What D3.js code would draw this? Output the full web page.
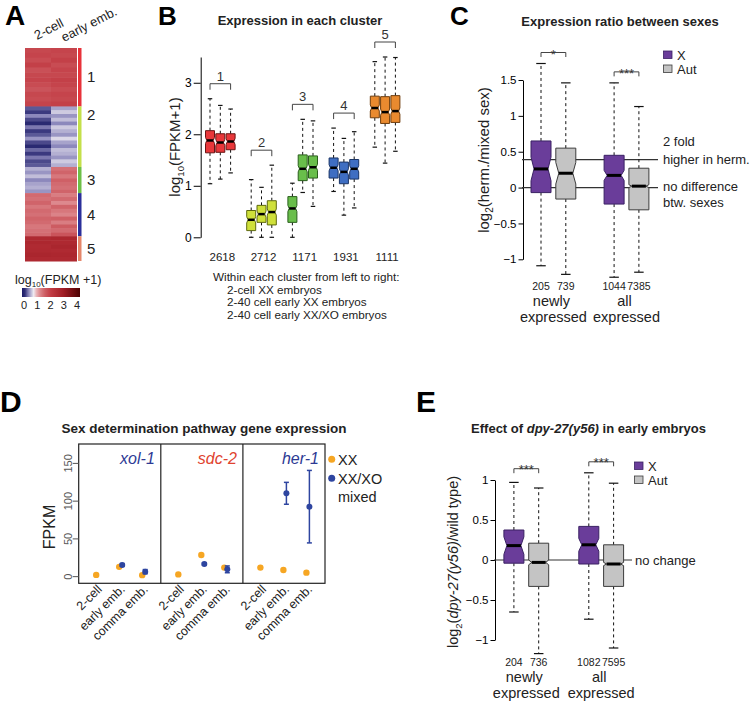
<!DOCTYPE html>
<html><head><meta charset="utf-8">
<script src="https://cdn.jsdelivr.net/npm/d3@7"></script>
<style>body{margin:0;background:#fff}svg text{font-family:"Liberation Sans",Arial,Helvetica,sans-serif}</style>
</head><body><svg id="fig" width="750" height="701"></svg>
<script>
// ---------------- DATA ----------------
// Panel A: heatmap (estimated row values, log10(FPKM+1))
const heatColumns = ["2-cell", "early emb."];
const clusterIds = ["1", "2", "3", "4", "5"];
const clusterSizes = [2618, 2712, 1171, 1931, 1111];
const heat2cell = [
  [1.85, 1.9, 1.8, 1.95, 1.75, 1.85, 1.9, 1.8, 1.7, 1.85, 1.8, 1.9],
  [0.2, 0.1, 0.35, 0.15, 0.05, 0.3, 0.1, 0.2, 0.4, 0.15, 0.05, 0.25, 0.1, 0.3, 0.15, 0.2],
  [0.5, 0.4, 0.55, 0.35, 0.45, 0.5, 0.4],
  [1.45, 1.4, 1.5, 1.35, 1.45, 1.4, 1.5, 1.45, 1.35, 1.4, 1.45],
  [2.6, 2.65, 2.55, 2.6, 2.7, 2.6]
];
const heatEarly = [
  [1.9, 1.85, 1.95, 1.8, 1.9, 1.85, 1.95, 1.9, 1.8, 1.9, 1.85, 1.95],
  [0.45, 0.6, 0.4, 0.55, 0.35, 0.6, 0.5, 0.4, 0.65, 0.45, 0.35, 0.55, 0.5, 0.4, 0.6, 0.5],
  [1.4, 1.5, 1.35, 1.55, 1.45, 1.4, 1.5],
  [1.3, 1.45, 1.2, 1.5, 1.35, 1.25, 1.55, 1.3, 1.6, 1.45, 1.7],
  [2.65, 2.6, 2.7, 2.55, 2.65, 2.6]
];
const heatLegendTicks = [0, 1, 2, 3, 4];

// Panel B: boxplots per cluster (3 samples each)
const bSamples = ["2-cell XX embryos", "2-40 cell early XX embryos", "2-40 cell early XX/XO embryos"];
const bLow  = [[1.04, 1.13, 1.25], [0, 0, 0], [0, 0.87, 0.60], [0.89, 0.43, 0.57], [1.75, 1.44, 1.67]];
const bQ1   = [[1.64, 1.65, 1.70], [0.13, 0.29, 0.24], [0.29, 1.10, 1.15], [1.15, 1.04, 1.13], [2.32, 2.21, 2.23]];
const bMed  = [[1.88, 1.84, 1.86], [0.34, 0.45, 0.49], [0.56, 1.33, 1.36], [1.35, 1.27, 1.33], [2.51, 2.43, 2.45]];
const bQ3   = [[2.07, 2.01, 2.01], [0.52, 0.62, 0.71], [0.79, 1.60, 1.58], [1.54, 1.46, 1.51], [2.74, 2.73, 2.75]];
const bHigh = [[2.69, 2.56, 2.49], [1.12, 0.97, 1.40], [1.05, 2.29, 2.26], [2.12, 1.92, 2.05], [3.41, 3.50, 3.49]];
const bNotch = 0.06;
const bTicks = [0, 1, 2, 3];

// Panel C: log2(herm./mixed sex)
const cCategories = ["newly expressed", "all expressed"];
const chromosomes = ["X", "Aut"];
const cLow  = [[-1.09, -1.21], [-1.25, -1.18]];
const cQ1   = [[-0.07, -0.16], [-0.23, -0.31]];
const cMed  = [[0.26, 0.20], [0.17, 0.02]];
const cQ3   = [[0.65, 0.55], [0.45, 0.27]];
const cHigh = [[1.73, 1.46], [1.46, 1.13]];
const cNotch = [[0.165, 0.15], [0.07, 0.02]];
const cCounts = [[205, 739], [1044, 7385]];
const cSignif = ["*", "***"];
const cRefLines = [0.39, 0];
const cTicks = [-1, -0.5, 0, 0.5, 1, 1.5];

// Panel D: sex determination genes (FPKM)
const dGenes = ["xol-1", "sdc-2", "her-1"];
const dStages = ["2-cell", "early emb.", "comma emb."];
const dXX = [[2.3, 13, 2], [3, 28.7, 12], [12, 8.9, 5.3]];
const dMixed = [[null, 15.5, 6.6], [null, 16.8, 9.7], [null, 110.4, 92.7]];
const dMixedErr = [[null, 1.8, 2.8], [null, 1.5, 4.5], [null, 14.5, 48]];
const dTicks = [0, 50, 100, 150];

// Panel E: log2(dpy-27(y56)/wild type)
const eLow  = [[-0.65, -1.17], [-0.74, -1.10]];
const eQ1   = [[-0.04, -0.33], [-0.05, -0.33]];
const eMed  = [[0.18, -0.03], [0.19, -0.05]];
const eQ3   = [[0.375, 0.21], [0.42, 0.19]];
const eHigh = [[0.97, 0.90], [1.09, 0.96]];
const eNotch = [[0.11, 0.03], [0.08, 0.02]];
const eCounts = [[204, 736], [1082, 7595]];
const eSignif = ["***", "***"];
const eTicks = [-1, -0.5, 0, 0.5, 1];

// ---------------- DRAWING ----------------
const svg = d3.select("#fig");
svg.append("rect").attr("width", 750).attr("height", 701).attr("fill", "#fff");

function txt(g, s, x, y, size, opts = {}) {
  const t = g.append("text").attr("x", x).attr("y", y).attr("font-size", size)
    .attr("fill", opts.fill || "#000").attr("text-anchor", opts.anchor || "start")
    .attr("font-weight", opts.bold ? "bold" : "normal").text(s);
  if (opts.italic) t.attr("font-style", "italic");
  return t;
}
function letter(s, x, y, size) { txt(svg, s, x, y, size, {bold: true}); }

function styleAxis(g, fs) {
  g.selectAll("path.domain").attr("stroke", "#000").attr("stroke-width", 1);
  g.selectAll(".tick line").attr("stroke", "#000");
  g.selectAll(".tick text").attr("font-size", fs).attr("fill", "#000")
    .attr("font-family", "'Liberation Sans',Arial,sans-serif");
}

function notchedBox(g, cx, w, y, low, q1, med, q3, high, nh, indent, fill, stroke, capW, medW) {
  const x0 = cx - w / 2, x1 = cx + w / 2;
  g.append("line").attr("x1", cx).attr("x2", cx).attr("y1", y(q3)).attr("y2", y(high))
    .attr("stroke", "#111").attr("stroke-width", 1).attr("stroke-dasharray", "3,3");
  g.append("line").attr("x1", cx).attr("x2", cx).attr("y1", y(q1)).attr("y2", y(low))
    .attr("stroke", "#111").attr("stroke-width", 1).attr("stroke-dasharray", "3,3");
  [high, low].forEach(v => g.append("line").attr("x1", cx - capW / 2).attr("x2", cx + capW / 2)
    .attr("y1", y(v)).attr("y2", y(v)).attr("stroke", "#111").attr("stroke-width", 1.2));
  let d;
  if (nh > 0) {
    const yh = y(Math.min(med + nh, q3)), yl = y(Math.max(med - nh, q1)), ym = y(med);
    d = `M${x0},${y(q3)}L${x1},${y(q3)}L${x1},${yh}L${x1 - indent},${ym}L${x1},${yl}L${x1},${y(q1)}` +
        `L${x0},${y(q1)}L${x0},${yl}L${x0 + indent},${ym}L${x0},${yh}Z`;
  } else {
    d = `M${x0},${y(q3)}L${x1},${y(q3)}L${x1},${y(q1)}L${x0},${y(q1)}Z`;
  }
  g.append("path").attr("d", d).attr("fill", fill).attr("stroke", stroke).attr("stroke-width", 1);
  g.append("line").attr("x1", x0 + indent).attr("x2", x1 - indent).attr("y1", y(med)).attr("y2", y(med))
    .attr("stroke", "#000").attr("stroke-width", medW);
}

function bracket(g, xa, xb, yb, tick, label, fs, labelDy) {
  g.append("path").attr("d", `M${xa},${yb + tick}L${xa},${yb}L${xb},${yb}L${xb},${yb + tick}`)
    .attr("fill", "none").attr("stroke", "#444").attr("stroke-width", 1);
  txt(g, label, (xa + xb) / 2, yb + labelDy, fs, {anchor: "middle", fill: "#333"});
}

// ===== Panel A =====
letter("A", 5, 25, 28);
const gA = svg.append("g");
const heatColor = d3.scaleLinear()
  .domain([0, 0.35, 0.75, 1.0, 1.5, 2.0, 3.0, 4.0])
  .range(["#1a1a66", "#8c88bc", "#f6f2f6", "#e6a2a6", "#d0646a", "#c23c44", "#a01c24", "#5c0608"]);
const xA = d3.scaleBand().domain(heatColumns).range([25, 77]);
const totalGenes = d3.sum(clusterSizes);
const yA = d3.scaleLinear().domain([0, totalGenes]).range([48, 261]);
const clusterBarColors = ["#e8323a", "#c4e04a", "#6dbf47", "#2b2f9a", "#e5866a"];
let cum = 0;
clusterIds.forEach((cid, k) => {
  const size = clusterSizes[k];
  [heat2cell[k], heatEarly[k]].forEach((rows, c) => {
    const n = rows.length;
    rows.forEach((v, i) => {
      const ya = yA(cum + size * i / n), yb = yA(cum + size * (i + 1) / n);
      gA.append("rect").attr("x", xA(heatColumns[c])).attr("width", xA.bandwidth())
        .attr("y", ya).attr("height", yb - ya + 0.5).attr("fill", heatColor(v));
    });
  });
  gA.append("rect").attr("x", 78).attr("width", 3.5).attr("y", yA(cum)).attr("height", yA(cum + size) - yA(cum))
    .attr("fill", clusterBarColors[k]);
  const mid = (yA(cum) + yA(cum + size)) / 2;
  txt(gA, cid, 87, (k === 1 ? yA(cum) + 9 : mid) + 5, 15, {fill: "#222"});
  cum += size;
});
gA.append("text").attr("transform", "translate(37,40) rotate(-27)").attr("font-size", 13).attr("fill", "#222").text(heatColumns[0]);
gA.append("text").attr("transform", "translate(64,42) rotate(-27)").attr("font-size", 13).attr("fill", "#222").text(heatColumns[1]);
const lt = gA.append("text").attr("x", 15).attr("y", 284).attr("font-size", 12.5).attr("fill", "#222");
lt.append("tspan").text("log");
lt.append("tspan").attr("font-size", 8).attr("dy", 3).text("10");
lt.append("tspan").attr("dy", -3).text("(FPKM +1)");
const xLeg = d3.scaleLinear().domain([0, 4]).range([24, 77]);
const defs = svg.append("defs");
const grad = defs.append("linearGradient").attr("id", "hg").attr("x1", "0%").attr("x2", "100%");
d3.range(0, 21).forEach(i => {
  const v = xLeg.invert(22 + (80 - 22) * i / 20);
  grad.append("stop").attr("offset", (i * 5) + "%").attr("stop-color", heatColor(Math.max(0, v)));
});
gA.append("rect").attr("x", 22).attr("y", 288).attr("width", 58).attr("height", 9).attr("fill", "url(#hg)");
heatLegendTicks.forEach(t => txt(gA, t, xLeg(t), 309, 11, {anchor: "middle", fill: "#222"}));

// ===== Panel B =====
letter("B", 158, 25, 26);
const gB = svg.append("g");
txt(gB, "Expression in each cluster", 300, 25, 13, {anchor: "middle", bold: true, fill: "#222"});
const yB = d3.scaleLinear().domain([0, 3.5]).range([237.3, 57]);
const xB = d3.scaleLinear().domain([0, 18]).range([210, 210 + 18 * 10.3]);
const axB = gB.append("g").attr("transform", "translate(200.7,0)")
  .call(d3.axisLeft(yB).tickValues(bTicks).tickFormat(d3.format("d")).tickSize(7).tickSizeOuter(0).tickPadding(2));
styleAxis(axB, 12);
const yl = gB.append("text").attr("transform", "translate(180,147) rotate(-90)").attr("text-anchor", "middle")
  .attr("font-size", 15).attr("fill", "#222");
yl.append("tspan").text("log");
yl.append("tspan").attr("font-size", 9.5).attr("dy", 4).text("10");
yl.append("tspan").attr("dy", -4).text("(FPKM+1)");
const bFill = ["#e8373a", "#cfe03a", "#69be4b", "#3f6ec2", "#e98a2f"];
const bStroke = ["#6a1414", "#5f6a10", "#2a5f1c", "#1a3466", "#6e3c0c"];
clusterIds.forEach((cid, g) => {
  bSamples.forEach((s, j) => {
    notchedBox(gB, xB(g * 4 + j), 9, yB, bLow[g][j], bQ1[g][j], bMed[g][j], bQ3[g][j], bHigh[g][j],
      bNotch, 1.3, bFill[g], bStroke[g], 4.5, 2.5);
  });
  const top = yB(d3.max(bHigh[g])) - 15;
  bracket(gB, xB(g * 4), xB(g * 4 + 2), top, 6, cid, 13, -3);
  txt(gB, clusterSizes[g], xB(g * 4 + 1) + 2, 261, 11.5, {anchor: "middle", fill: "#222"});
});
txt(gB, "Within each cluster from left to right:", 213, 281, 11.7, {fill: "#222"});
bSamples.forEach((s, j) => txt(gB, s, 227, 293.5 + j * 12.5, 11.7, {fill: "#222"}));

// ===== generic X/Aut boxplot panel (C and E) =====
function ratioPanel(cfg) {
  const g = svg.append("g");
  const y = d3.scaleLinear().domain(cfg.domain).range(cfg.range);
  const ax = g.append("g").attr("transform", `translate(${cfg.axisX},0)`)
    .call(d3.axisLeft(y).tickValues(cfg.ticks).tickFormat(d => d === 0 ? "0" : d3.format("")(d).replace("-", "\u2212"))
      .tickSize(4.5).tickSizeOuter(0).tickPadding(2));
  styleAxis(ax, cfg.tickFs);
  const x = d3.scalePoint().domain(cCategories).range(cfg.catRange);
  const sub = d3.scalePoint().domain(chromosomes).range([-12.4, 12.4]);
  const fills = ["#6a3d9a", "#c4c4c4"], strokes = ["#3a2163", "#3c3c3c"];
  cfg.refLines.forEach(v => g.append("line").attr("x1", cfg.axisX - 1).attr("x2", cfg.lineEnd)
    .attr("y1", y(v)).attr("y2", y(v)).attr("stroke", "#333").attr("stroke-width", 1.2));
  cCategories.forEach((cat, i) => {
    chromosomes.forEach((ch, j) => {
      const cx = x(cat) + sub(ch);
      notchedBox(g, cx, 20, y, cfg.low[i][j], cfg.q1[i][j], cfg.med[i][j], cfg.q3[i][j], cfg.high[i][j],
        cfg.notch[i][j], 3, fills[j], strokes[j], 9.5, 3);
      txt(g, cfg.counts[i][j], cx, cfg.countY, 10.5, {anchor: "middle", fill: "#222"});
    });
    const by = y(d3.max(cfg.high[i])) - cfg.bracketOff[i];
    bracket(g, x(cat) + sub("X"), x(cat) + sub("Aut"), by, 4.5, cfg.signif[i], 13, cfg.sigDy);
    const words = cat.split(" ");
    txt(g, words[0], x(cat) - 2, cfg.countY + 16, 14.5, {anchor: "middle", fill: "#222"});
    txt(g, words[1], x(cat), cfg.countY + 32, 14.5, {anchor: "middle", fill: "#222"});
  });
  chromosomes.forEach((ch, j) => {
    g.append("rect").attr("x", cfg.legX).attr("y", cfg.legY + j * 14).attr("width", 8.5).attr("height", 7.5)
      .attr("fill", fills[j]).attr("stroke", strokes[j]).attr("stroke-width", 0.8);
    txt(g, ch, cfg.legX + 13.5, cfg.legY + j * 14 + 8.5, 13, {fill: "#222"});
  });
  return {g, y};
}

// ===== Panel C =====
letter("C", 450, 25, 26);
const C = ratioPanel({
  domain: [-1, 1.5], range: [259.3, 80], axisX: 523, ticks: cTicks, tickFs: 11.5,
  catRange: [553.4, 626.5], refLines: cRefLines, lineEnd: 658,
  low: cLow, q1: cQ1, med: cMed, q3: cQ3, high: cHigh, notch: cNotch, counts: cCounts,
  signif: cSignif, bracketOff: [11, 11], sigDy: 6, countY: 289.5, legX: 663.5, legY: 51
});
txt(C.g, "Expression ratio between sexes", 620, 26, 13, {anchor: "middle", bold: true, fill: "#222"});
const cyl = C.g.append("text").attr("transform", "translate(489,160) rotate(-90)").attr("text-anchor", "middle")
  .attr("font-size", 15).attr("fill", "#222");
cyl.append("tspan").text("log");
cyl.append("tspan").attr("font-size", 10).attr("dy", 4).text("2");
cyl.append("tspan").attr("dy", -4).text("(herm./mixed sex)");
txt(C.g, "2 fold", 663, 146, 13, {fill: "#222"});
txt(C.g, "higher in herm.", 663, 163.5, 13, {fill: "#222"});
txt(C.g, "no difference", 663, 191, 13, {fill: "#222"});
txt(C.g, "btw. sexes", 663, 206.5, 13, {fill: "#222"});

// ===== Panel D =====
letter("D", 0, 412, 30);
const gD = svg.append("g");
txt(gD, "Sex determination pathway gene expression", 204, 433, 13.5, {anchor: "middle", bold: true, fill: "#222"});
const frameL = 78.7, frameR = 325, frameT = 444, frameB = 583.3;
const yD = d3.scaleLinear().domain([-8.8, 175.7]).range([frameB, frameT]);
const facet = d3.scaleBand().domain(dGenes).range([frameL, frameR]);
const xD = d3.scalePoint().domain(dStages).range([19, 65]);
gD.append("rect").attr("x", frameL).attr("y", frameT).attr("width", frameR - frameL).attr("height", frameB - frameT)
  .attr("fill", "none").attr("stroke", "#222").attr("stroke-width", 1.2);
dGenes.slice(1).forEach(gn => gD.append("line").attr("x1", facet(gn)).attr("x2", facet(gn))
  .attr("y1", frameT).attr("y2", frameB).attr("stroke", "#222").attr("stroke-width", 1.2));
dTicks.forEach(t => {
  gD.append("line").attr("x1", frameL - 6).attr("x2", frameL).attr("y1", yD(t)).attr("y2", yD(t)).attr("stroke", "#555");
  gD.append("text").attr("transform", `translate(71.5,${yD(t)}) rotate(-90)`).attr("text-anchor", "middle")
    .attr("font-size", 11).attr("fill", "#555").text(t);
});
gD.append("text").attr("transform", "translate(55,527) rotate(-90)").attr("text-anchor", "middle")
  .attr("font-size", 16).attr("fill", "#222").text("FPKM");
const geneColors = ["#2d3a94", "#e0432f", "#2d3a94"];
const colXX = "#f6a623", colMix = "#2e45a0";
dGenes.forEach((gn, gi) => {
  const fx = facet(gn);
  txt(gD, gn, fx + facet.bandwidth() - 6, 463.5, 16, {anchor: "end", italic: true, fill: geneColors[gi]});
  dStages.forEach((st, si) => {
    const px = fx + xD(st);
    gD.append("text").attr("transform", `translate(${px + 5},590) rotate(-45)`).attr("text-anchor", "end")
      .attr("font-size", 12.5).attr("fill", "#222").text(st);
    gD.append("circle").attr("cx", px - 1.5).attr("cy", yD(dXX[gi][si])).attr("r", 3.2).attr("fill", colXX);
    const m = dMixed[gi][si];
    if (m !== null) {
      const e = dMixedErr[gi][si];
      gD.append("line").attr("x1", px + 1.5).attr("x2", px + 1.5).attr("y1", yD(m - e)).attr("y2", yD(m + e))
        .attr("stroke", colMix).attr("stroke-width", 1.5);
      [m - e, m + e].forEach(v => gD.append("line").attr("x1", px - 1).attr("x2", px + 4)
        .attr("y1", yD(v)).attr("y2", yD(v)).attr("stroke", colMix).attr("stroke-width", 1.5));
      gD.append("circle").attr("cx", px + 1.5).attr("cy", yD(m)).attr("r", 3).attr("fill", colMix);
    }
  });
});
gD.append("circle").attr("cx", 331.7).attr("cy", 459.3).attr("r", 3.5).attr("fill", colXX);
txt(gD, "XX", 338, 464.5, 14.5, {fill: "#222"});
gD.append("circle").attr("cx", 331.7).attr("cy", 478.3).attr("r", 3.5).attr("fill", colMix);
txt(gD, "XX/XO", 338, 483.5, 14.5, {fill: "#222"});
txt(gD, "mixed", 338, 501.5, 14.5, {fill: "#222"});

// ===== Panel E =====
letter("E", 416, 412, 30);
const E = ratioPanel({
  domain: [-1, 1], range: [640, 480], axisX: 495, ticks: eTicks, tickFs: 11.5,
  catRange: [526.3, 601.2], refLines: [0], lineEnd: 632,
  low: eLow, q1: eQ1, med: eMed, q3: eQ3, high: eHigh, notch: eNotch, counts: eCounts,
  signif: eSignif, bracketOff: [13.7, 11], sigDy: 5, countY: 665.5, legX: 634.5, legY: 462
});
const et = E.g.append("text").attr("x", 588.5).attr("y", 433).attr("text-anchor", "middle")
  .attr("font-size", 13).attr("font-weight", "bold").attr("fill", "#222");
et.append("tspan").text("Effect of ");
et.append("tspan").attr("font-style", "italic").text("dpy-27(y56)");
et.append("tspan").text(" in early embryos");
const eyl = E.g.append("text").attr("transform", "translate(458,562) rotate(-90)").attr("text-anchor", "middle")
  .attr("font-size", 14.5).attr("fill", "#222");
eyl.append("tspan").text("log");
eyl.append("tspan").attr("font-size", 9.5).attr("dy", 4).text("2");
eyl.append("tspan").attr("dy", -4).text("(");
eyl.append("tspan").attr("font-style", "italic").text("dpy-27(y56)");
eyl.append("tspan").text("/wild type)");
txt(E.g, "no change", 635, 564.5, 13, {fill: "#222"});
</script>
</body></html>
